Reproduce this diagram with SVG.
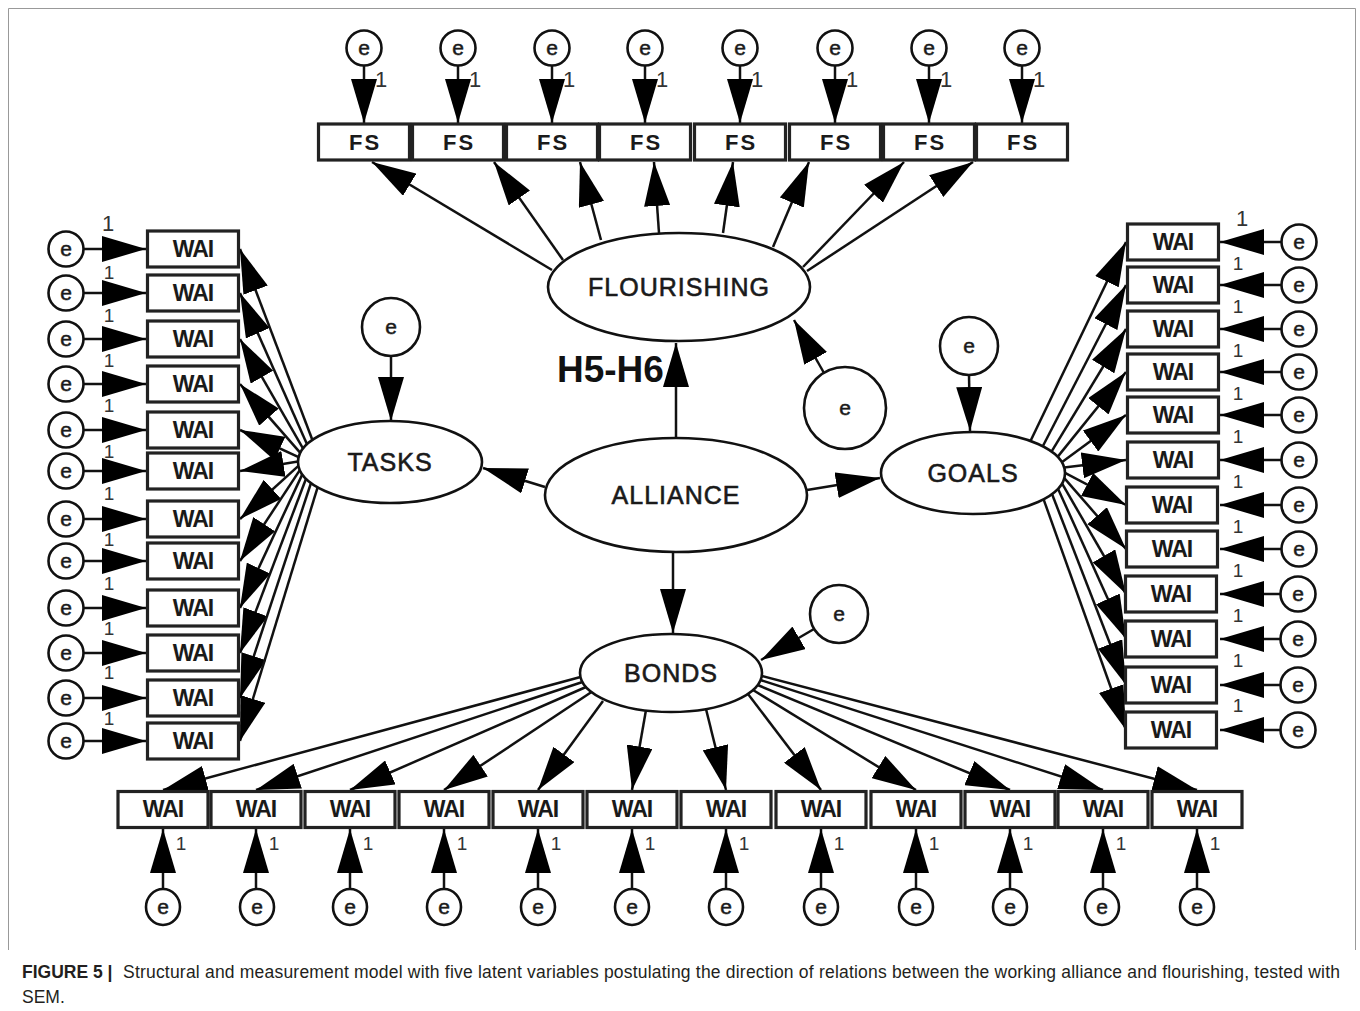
<svg xmlns="http://www.w3.org/2000/svg" width="1360" height="1011" viewBox="0 0 1360 1011">
<defs>
<marker id="ah" markerUnits="userSpaceOnUse" markerWidth="44" markerHeight="26" viewBox="0 0 44 26" refX="44" refY="13" orient="auto">
<path d="M0,0 L44,13 L0,26 Z" fill="#000"/>
</marker>
<style>
.box{fill:#fff;stroke:#222;stroke-width:3.2}
.lat{fill:#fff;stroke:#111;stroke-width:2.6}
.err{fill:#fff;stroke:#111;stroke-width:2.6}
.c line{stroke:#111;stroke-width:2.5;fill:none;marker-end:url(#ah)}
text{font-family:"Liberation Sans",Arial,sans-serif;fill:#1a1a1a}
.w{font-size:23px;font-weight:bold;letter-spacing:-1px;text-anchor:middle}
.fs{font-size:22px;font-weight:bold;letter-spacing:2px;text-anchor:middle}
.l{font-size:25px;letter-spacing:1px;text-anchor:middle;stroke:#1a1a1a;stroke-width:0.6}
.e{font-size:21px;text-anchor:middle;stroke:#1a1a1a;stroke-width:0.5}
.one{font-size:19px;text-anchor:middle;fill:#333}
.cap{font-size:17.5px;fill:#231f20}
</style>
</defs>
<path d="M8.5,950 V8.5 H1355.5 V950" fill="none" stroke="#999" stroke-width="1"/>

<g id="connectors" class="c">
<line x1="364" y1="66" x2="364" y2="123"/>
<line x1="458" y1="66" x2="458" y2="123"/>
<line x1="552" y1="66" x2="552" y2="123"/>
<line x1="645" y1="66" x2="645" y2="123"/>
<line x1="740" y1="66" x2="740" y2="123"/>
<line x1="835" y1="66" x2="835" y2="123"/>
<line x1="929" y1="66" x2="929" y2="123"/>
<line x1="1022" y1="66" x2="1022" y2="123"/>
<line x1="552" y1="270" x2="372" y2="162"/>
<line x1="563" y1="260" x2="494" y2="162"/>
<line x1="601" y1="240" x2="580" y2="162"/>
<line x1="659" y1="233" x2="654" y2="162"/>
<line x1="723" y1="233" x2="733" y2="162"/>
<line x1="773" y1="247" x2="809" y2="162"/>
<line x1="803" y1="267" x2="904" y2="162"/>
<line x1="807" y1="271" x2="973" y2="162"/>
<line x1="676" y1="438" x2="676" y2="343"/>
<line x1="824" y1="373" x2="794" y2="320"/>
<line x1="545" y1="487" x2="483" y2="468"/>
<line x1="807" y1="490" x2="880" y2="478"/>
<line x1="673" y1="552" x2="673" y2="633"/>
<line x1="391" y1="356" x2="391" y2="421"/>
<line x1="969" y1="375" x2="970" y2="431"/>
<line x1="814" y1="629" x2="761" y2="660"/>
<line x1="312.4" y1="440" x2="240" y2="249"/>
<line x1="307" y1="444.3" x2="240" y2="293"/>
<line x1="303.1" y1="448.6" x2="240" y2="339"/>
<line x1="300.3" y1="452.9" x2="240" y2="384"/>
<line x1="298.6" y1="457.2" x2="240" y2="430"/>
<line x1="298" y1="461.5" x2="240" y2="471"/>
<line x1="298.4" y1="465.8" x2="240" y2="519"/>
<line x1="299.8" y1="470.1" x2="240" y2="561"/>
<line x1="302.3" y1="474.4" x2="240" y2="608"/>
<line x1="306" y1="478.7" x2="240" y2="653"/>
<line x1="311" y1="483" x2="240" y2="698"/>
<line x1="317.6" y1="487.3" x2="240" y2="741"/>
<line x1="1030.5" y1="441" x2="1126" y2="242"/>
<line x1="1042.8" y1="446.3" x2="1126" y2="285"/>
<line x1="1051.5" y1="451.6" x2="1126" y2="329"/>
<line x1="1057.6" y1="456.9" x2="1126" y2="372"/>
<line x1="1061.8" y1="462.2" x2="1126" y2="415"/>
<line x1="1064.2" y1="467.5" x2="1126" y2="460"/>
<line x1="1065" y1="472.8" x2="1126" y2="505"/>
<line x1="1064.3" y1="478.1" x2="1126" y2="549"/>
<line x1="1062" y1="483.4" x2="1126" y2="594"/>
<line x1="1058" y1="488.7" x2="1126" y2="639"/>
<line x1="1052" y1="494" x2="1126" y2="685"/>
<line x1="1043.6" y1="499.3" x2="1126" y2="730"/>
<line x1="580.5" y1="677" x2="163" y2="790"/>
<line x1="582.5" y1="682" x2="256" y2="790"/>
<line x1="586" y1="687" x2="350" y2="790"/>
<line x1="591.5" y1="692" x2="444" y2="790"/>
<line x1="603" y1="701" x2="538" y2="790"/>
<line x1="646" y1="710" x2="632" y2="790"/>
<line x1="706" y1="709" x2="726" y2="790"/>
<line x1="748" y1="694" x2="821" y2="790"/>
<line x1="753" y1="690" x2="916" y2="790"/>
<line x1="757.6" y1="685" x2="1010" y2="790"/>
<line x1="760.5" y1="680" x2="1103" y2="790"/>
<line x1="761.7" y1="676" x2="1197" y2="790"/>
<line x1="84" y1="249" x2="146" y2="249"/>
<line x1="84" y1="293" x2="146" y2="293"/>
<line x1="84" y1="339" x2="146" y2="339"/>
<line x1="84" y1="384" x2="146" y2="384"/>
<line x1="84" y1="430" x2="146" y2="430"/>
<line x1="84" y1="471" x2="146" y2="471"/>
<line x1="84" y1="519" x2="146" y2="519"/>
<line x1="84" y1="561" x2="146" y2="561"/>
<line x1="84" y1="608" x2="146" y2="608"/>
<line x1="84" y1="653" x2="146" y2="653"/>
<line x1="84" y1="698" x2="146" y2="698"/>
<line x1="84" y1="741" x2="146" y2="741"/>
<line x1="1281" y1="242" x2="1220" y2="242"/>
<line x1="1281" y1="285" x2="1220" y2="285"/>
<line x1="1281" y1="329" x2="1220" y2="329"/>
<line x1="1281" y1="372" x2="1220" y2="372"/>
<line x1="1281" y1="415" x2="1220" y2="415"/>
<line x1="1281" y1="460" x2="1220" y2="460"/>
<line x1="1281" y1="505" x2="1220" y2="505"/>
<line x1="1281" y1="549" x2="1220" y2="549"/>
<line x1="1281" y1="594" x2="1220" y2="594"/>
<line x1="1281" y1="639" x2="1220" y2="639"/>
<line x1="1281" y1="685" x2="1220" y2="685"/>
<line x1="1281" y1="730" x2="1220" y2="730"/>
<line x1="163" y1="890" x2="163" y2="829"/>
<line x1="256" y1="890" x2="256" y2="829"/>
<line x1="350" y1="890" x2="350" y2="829"/>
<line x1="444" y1="890" x2="444" y2="829"/>
<line x1="538" y1="890" x2="538" y2="829"/>
<line x1="632" y1="890" x2="632" y2="829"/>
<line x1="726" y1="890" x2="726" y2="829"/>
<line x1="821" y1="890" x2="821" y2="829"/>
<line x1="916" y1="890" x2="916" y2="829"/>
<line x1="1010" y1="890" x2="1010" y2="829"/>
<line x1="1103" y1="890" x2="1103" y2="829"/>
<line x1="1197" y1="890" x2="1197" y2="829"/>
</g>

<g id="labels-one">
<text class="one" x="381" y="87" style="font-size:22px">1</text>
<text class="one" x="475" y="87" style="font-size:22px">1</text>
<text class="one" x="569" y="87" style="font-size:22px">1</text>
<text class="one" x="662" y="87" style="font-size:22px">1</text>
<text class="one" x="757" y="87" style="font-size:22px">1</text>
<text class="one" x="852" y="87" style="font-size:22px">1</text>
<text class="one" x="946" y="87" style="font-size:22px">1</text>
<text class="one" x="1039" y="87" style="font-size:22px">1</text>
<text class="one" x="108" y="231" style="font-size:22px">1</text>
<text class="one" x="109" y="279">1</text>
<text class="one" x="109" y="322">1</text>
<text class="one" x="109" y="367">1</text>
<text class="one" x="109" y="412">1</text>
<text class="one" x="109" y="458">1</text>
<text class="one" x="109" y="500">1</text>
<text class="one" x="109" y="546">1</text>
<text class="one" x="109" y="590">1</text>
<text class="one" x="109" y="635">1</text>
<text class="one" x="109" y="679">1</text>
<text class="one" x="109" y="725">1</text>
<text class="one" x="1242" y="226" style="font-size:22px">1</text>
<text class="one" x="1238" y="270">1</text>
<text class="one" x="1238" y="313">1</text>
<text class="one" x="1238" y="357">1</text>
<text class="one" x="1238" y="400">1</text>
<text class="one" x="1238" y="443">1</text>
<text class="one" x="1238" y="488">1</text>
<text class="one" x="1238" y="533">1</text>
<text class="one" x="1238" y="577">1</text>
<text class="one" x="1238" y="622">1</text>
<text class="one" x="1238" y="667">1</text>
<text class="one" x="1238" y="712">1</text>
<text class="one" x="181" y="850">1</text>
<text class="one" x="274" y="850">1</text>
<text class="one" x="368" y="850">1</text>
<text class="one" x="462" y="850">1</text>
<text class="one" x="556" y="850">1</text>
<text class="one" x="650" y="850">1</text>
<text class="one" x="744" y="850">1</text>
<text class="one" x="839" y="850">1</text>
<text class="one" x="934" y="850">1</text>
<text class="one" x="1028" y="850">1</text>
<text class="one" x="1121" y="850">1</text>
<text class="one" x="1215" y="850">1</text>
</g>

<g id="flourishing"><ellipse class="lat" cx="679" cy="287" rx="131" ry="54"/><text class="l" x="679" y="296">FLOURISHING</text></g>
<g id="alliance"><ellipse class="lat" cx="676" cy="495" rx="131" ry="57"/><text class="l" x="676" y="504">ALLIANCE</text></g>
<g id="tasks"><ellipse class="lat" cx="390" cy="462" rx="92" ry="41"/><text class="l" x="390" y="471">TASKS</text></g>
<g id="goals"><ellipse class="lat" cx="973" cy="473" rx="92" ry="41"/><text class="l" x="973" y="482">GOALS</text></g>
<g id="bonds"><ellipse class="lat" cx="671" cy="673" rx="91" ry="39"/><text class="l" x="671" y="682">BONDS</text></g>
<text x="557" y="382" style="font-size:37px;font-weight:bold;fill:#111">H5-H6</text>

<g id="e-flourishing"><circle class="err" cx="845" cy="408" r="41"/><text class="e" x="845" y="415">e</text></g>
<g id="e-tasks"><circle class="err" cx="391" cy="327" r="29"/><text class="e" x="391" y="334">e</text></g>
<g id="e-goals"><circle class="err" cx="969" cy="346" r="29"/><text class="e" x="969" y="353">e</text></g>
<g id="e-bonds"><circle class="err" cx="839" cy="614" r="29"/><text class="e" x="839" y="621">e</text></g>

<g id="fs1"><rect class="box" x="318.5" y="124" width="91" height="36"/><text class="fs" x="365" y="150">FS</text></g>
<g id="fs2"><rect class="box" x="412.5" y="124" width="91" height="36"/><text class="fs" x="459" y="150">FS</text></g>
<g id="fs3"><rect class="box" x="506.5" y="124" width="91" height="36"/><text class="fs" x="553" y="150">FS</text></g>
<g id="fs4"><rect class="box" x="599.5" y="124" width="91" height="36"/><text class="fs" x="646" y="150">FS</text></g>
<g id="fs5"><rect class="box" x="694.5" y="124" width="91" height="36"/><text class="fs" x="741" y="150">FS</text></g>
<g id="fs6"><rect class="box" x="789.5" y="124" width="91" height="36"/><text class="fs" x="836" y="150">FS</text></g>
<g id="fs7"><rect class="box" x="883.5" y="124" width="91" height="36"/><text class="fs" x="930" y="150">FS</text></g>
<g id="fs8"><rect class="box" x="976.5" y="124" width="91" height="36"/><text class="fs" x="1023" y="150">FS</text></g>
<g id="e-fs">
<circle class="err" cx="364" cy="48" r="17.5"/><text class="e" x="364" y="55">e</text>
<circle class="err" cx="458" cy="48" r="17.5"/><text class="e" x="458" y="55">e</text>
<circle class="err" cx="552" cy="48" r="17.5"/><text class="e" x="552" y="55">e</text>
<circle class="err" cx="645" cy="48" r="17.5"/><text class="e" x="645" y="55">e</text>
<circle class="err" cx="740" cy="48" r="17.5"/><text class="e" x="740" y="55">e</text>
<circle class="err" cx="835" cy="48" r="17.5"/><text class="e" x="835" y="55">e</text>
<circle class="err" cx="929" cy="48" r="17.5"/><text class="e" x="929" y="55">e</text>
<circle class="err" cx="1022" cy="48" r="17.5"/><text class="e" x="1022" y="55">e</text>
</g>

<g id="tasks-items">
<rect class="box" x="147.5" y="231" width="91" height="36"/><text class="w" x="193" y="257">WAI</text>
<rect class="box" x="147.5" y="275" width="91" height="36"/><text class="w" x="193" y="301">WAI</text>
<rect class="box" x="147.5" y="321" width="91" height="36"/><text class="w" x="193" y="347">WAI</text>
<rect class="box" x="147.5" y="366" width="91" height="36"/><text class="w" x="193" y="392">WAI</text>
<rect class="box" x="147.5" y="412" width="91" height="36"/><text class="w" x="193" y="438">WAI</text>
<rect class="box" x="147.5" y="453" width="91" height="36"/><text class="w" x="193" y="479">WAI</text>
<rect class="box" x="147.5" y="501" width="91" height="36"/><text class="w" x="193" y="527">WAI</text>
<rect class="box" x="147.5" y="543" width="91" height="36"/><text class="w" x="193" y="569">WAI</text>
<rect class="box" x="147.5" y="590" width="91" height="36"/><text class="w" x="193" y="616">WAI</text>
<rect class="box" x="147.5" y="635" width="91" height="36"/><text class="w" x="193" y="661">WAI</text>
<rect class="box" x="147.5" y="680" width="91" height="36"/><text class="w" x="193" y="706">WAI</text>
<rect class="box" x="147.5" y="723" width="91" height="36"/><text class="w" x="193" y="749">WAI</text>
</g>
<g id="e-tasks-items">
<circle class="err" cx="66" cy="249" r="17.5"/><text class="e" x="66" y="256">e</text>
<circle class="err" cx="66" cy="293" r="17.5"/><text class="e" x="66" y="300">e</text>
<circle class="err" cx="66" cy="339" r="17.5"/><text class="e" x="66" y="346">e</text>
<circle class="err" cx="66" cy="384" r="17.5"/><text class="e" x="66" y="391">e</text>
<circle class="err" cx="66" cy="430" r="17.5"/><text class="e" x="66" y="437">e</text>
<circle class="err" cx="66" cy="471" r="17.5"/><text class="e" x="66" y="478">e</text>
<circle class="err" cx="66" cy="519" r="17.5"/><text class="e" x="66" y="526">e</text>
<circle class="err" cx="66" cy="561" r="17.5"/><text class="e" x="66" y="568">e</text>
<circle class="err" cx="66" cy="608" r="17.5"/><text class="e" x="66" y="615">e</text>
<circle class="err" cx="66" cy="653" r="17.5"/><text class="e" x="66" y="660">e</text>
<circle class="err" cx="66" cy="698" r="17.5"/><text class="e" x="66" y="705">e</text>
<circle class="err" cx="66" cy="741" r="17.5"/><text class="e" x="66" y="748">e</text>
</g>

<g id="goals-items">
<rect class="box" x="1127.5" y="224" width="91" height="36"/><text class="w" x="1173" y="250">WAI</text>
<rect class="box" x="1127.5" y="267" width="91" height="36"/><text class="w" x="1173" y="293">WAI</text>
<rect class="box" x="1127.5" y="311" width="91" height="36"/><text class="w" x="1173" y="337">WAI</text>
<rect class="box" x="1127.5" y="354" width="91" height="36"/><text class="w" x="1173" y="380">WAI</text>
<rect class="box" x="1127.5" y="397" width="91" height="36"/><text class="w" x="1173" y="423">WAI</text>
<rect class="box" x="1127.5" y="442" width="91" height="36"/><text class="w" x="1173" y="468">WAI</text>
<rect class="box" x="1126.5" y="487" width="91" height="36"/><text class="w" x="1172" y="513">WAI</text>
<rect class="box" x="1126.5" y="531" width="91" height="36"/><text class="w" x="1172" y="557">WAI</text>
<rect class="box" x="1125.5" y="576" width="91" height="36"/><text class="w" x="1171" y="602">WAI</text>
<rect class="box" x="1125.5" y="621" width="91" height="36"/><text class="w" x="1171" y="647">WAI</text>
<rect class="box" x="1125.5" y="667" width="91" height="36"/><text class="w" x="1171" y="693">WAI</text>
<rect class="box" x="1125.5" y="712" width="91" height="36"/><text class="w" x="1171" y="738">WAI</text>
</g>
<g id="e-goals-items">
<circle class="err" cx="1299" cy="242" r="17.5"/><text class="e" x="1299" y="249">e</text>
<circle class="err" cx="1299" cy="285" r="17.5"/><text class="e" x="1299" y="292">e</text>
<circle class="err" cx="1299" cy="329" r="17.5"/><text class="e" x="1299" y="336">e</text>
<circle class="err" cx="1299" cy="372" r="17.5"/><text class="e" x="1299" y="379">e</text>
<circle class="err" cx="1299" cy="415" r="17.5"/><text class="e" x="1299" y="422">e</text>
<circle class="err" cx="1299" cy="460" r="17.5"/><text class="e" x="1299" y="467">e</text>
<circle class="err" cx="1299" cy="505" r="17.5"/><text class="e" x="1299" y="512">e</text>
<circle class="err" cx="1299" cy="549" r="17.5"/><text class="e" x="1299" y="556">e</text>
<circle class="err" cx="1298" cy="594" r="17.5"/><text class="e" x="1298" y="601">e</text>
<circle class="err" cx="1298" cy="639" r="17.5"/><text class="e" x="1298" y="646">e</text>
<circle class="err" cx="1298" cy="685" r="17.5"/><text class="e" x="1298" y="692">e</text>
<circle class="err" cx="1298" cy="730" r="17.5"/><text class="e" x="1298" y="737">e</text>
</g>

<g id="bonds-items">
<rect class="box" x="118" y="791.5" width="90" height="36"/><text class="w" x="163" y="817">WAI</text>
<rect class="box" x="211" y="791.5" width="90" height="36"/><text class="w" x="256" y="817">WAI</text>
<rect class="box" x="305" y="791.5" width="90" height="36"/><text class="w" x="350" y="817">WAI</text>
<rect class="box" x="399" y="791.5" width="90" height="36"/><text class="w" x="444" y="817">WAI</text>
<rect class="box" x="493" y="791.5" width="90" height="36"/><text class="w" x="538" y="817">WAI</text>
<rect class="box" x="587" y="791.5" width="90" height="36"/><text class="w" x="632" y="817">WAI</text>
<rect class="box" x="681" y="791.5" width="90" height="36"/><text class="w" x="726" y="817">WAI</text>
<rect class="box" x="776" y="791.5" width="90" height="36"/><text class="w" x="821" y="817">WAI</text>
<rect class="box" x="871" y="791.5" width="90" height="36"/><text class="w" x="916" y="817">WAI</text>
<rect class="box" x="965" y="791.5" width="90" height="36"/><text class="w" x="1010" y="817">WAI</text>
<rect class="box" x="1058" y="791.5" width="90" height="36"/><text class="w" x="1103" y="817">WAI</text>
<rect class="box" x="1152" y="791.5" width="90" height="36"/><text class="w" x="1197" y="817">WAI</text>
</g>
<g id="e-bonds-items">
<ellipse class="err" cx="163" cy="907" rx="17" ry="18"/><text class="e" x="163" y="914">e</text>
<ellipse class="err" cx="257" cy="907" rx="17" ry="18"/><text class="e" x="257" y="914">e</text>
<ellipse class="err" cx="350" cy="907" rx="17" ry="18"/><text class="e" x="350" y="914">e</text>
<ellipse class="err" cx="444" cy="907" rx="17" ry="18"/><text class="e" x="444" y="914">e</text>
<ellipse class="err" cx="538" cy="907" rx="17" ry="18"/><text class="e" x="538" y="914">e</text>
<ellipse class="err" cx="632" cy="907" rx="17" ry="18"/><text class="e" x="632" y="914">e</text>
<ellipse class="err" cx="726" cy="907" rx="17" ry="18"/><text class="e" x="726" y="914">e</text>
<ellipse class="err" cx="821" cy="907" rx="17" ry="18"/><text class="e" x="821" y="914">e</text>
<ellipse class="err" cx="916" cy="907" rx="17" ry="18"/><text class="e" x="916" y="914">e</text>
<ellipse class="err" cx="1010" cy="907" rx="17" ry="18"/><text class="e" x="1010" y="914">e</text>
<ellipse class="err" cx="1102" cy="907" rx="17" ry="18"/><text class="e" x="1102" y="914">e</text>
<ellipse class="err" cx="1197" cy="907" rx="17" ry="18"/><text class="e" x="1197" y="914">e</text>
</g>

<g id="caption">
<text class="cap" x="22" y="978" style="font-weight:bold">FIGURE 5 |</text>
<text class="cap" x="123" y="978" textLength="1217" lengthAdjust="spacing">Structural and measurement model with five latent variables postulating the direction of relations between the working alliance and flourishing, tested with</text>
<text class="cap" x="22" y="1003">SEM.</text>
</g>
</svg>
